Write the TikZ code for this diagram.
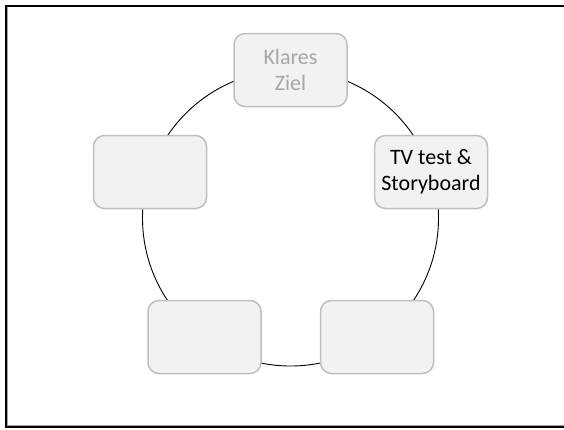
\documentclass[tikz,border=0pt]{standalone}
\usepackage{fontspec}
\setmainfont{Carlito}
\usetikzlibrary{positioning}
\definecolor{boxfill}{HTML}{F2F2F2}
\definecolor{boxline}{HTML}{BFBFBF}
\definecolor{fadedtext}{HTML}{A6A6A6}
\tikzset{
    stage/.style={
        rectangle, draw=boxline, line width=1.5pt, rounded corners=11pt,
        minimum width=113pt, minimum height=73pt,
        fill=boxfill, align=center,
        font=\fontsize{22}{26.5}\selectfont
    },
    faded/.style={text=fadedtext},
    ring/.style={draw=black, line width=0.9pt},
    frame/.style={draw=black, line width=2pt}
}
\begin{document}
\begin{tikzpicture}[x=1pt, y=-1pt]
\useasboundingbox (0,0) rectangle (564,429);

% Outer frame (right edge runs off the page)
\draw[draw=black!35, line width=1pt] (7,7) -- (7,425.5) -- (570,425.5);
\draw[frame] (570,5.5) -- (5.5,5.5) -- (5.5,426.5) -- (570,426.5);

% Cycle ring
\coordinate (centre) at (290.5,218);
\draw[ring] (centre) circle (148);

% Stages round the ring
\node[stage, faded] (goal)  at (290.5,70)  {Klares\\Ziel};
\node[stage]        (tv)    at (431,172)   {TV test \&\\Storyboard};
\node[stage]        (left)  at (150,172)   {};
\node[stage]        (botl)  at (204.5,337) {};
\node[stage]        (botr)  at (377,337)   {};

\end{tikzpicture}
\end{document}
